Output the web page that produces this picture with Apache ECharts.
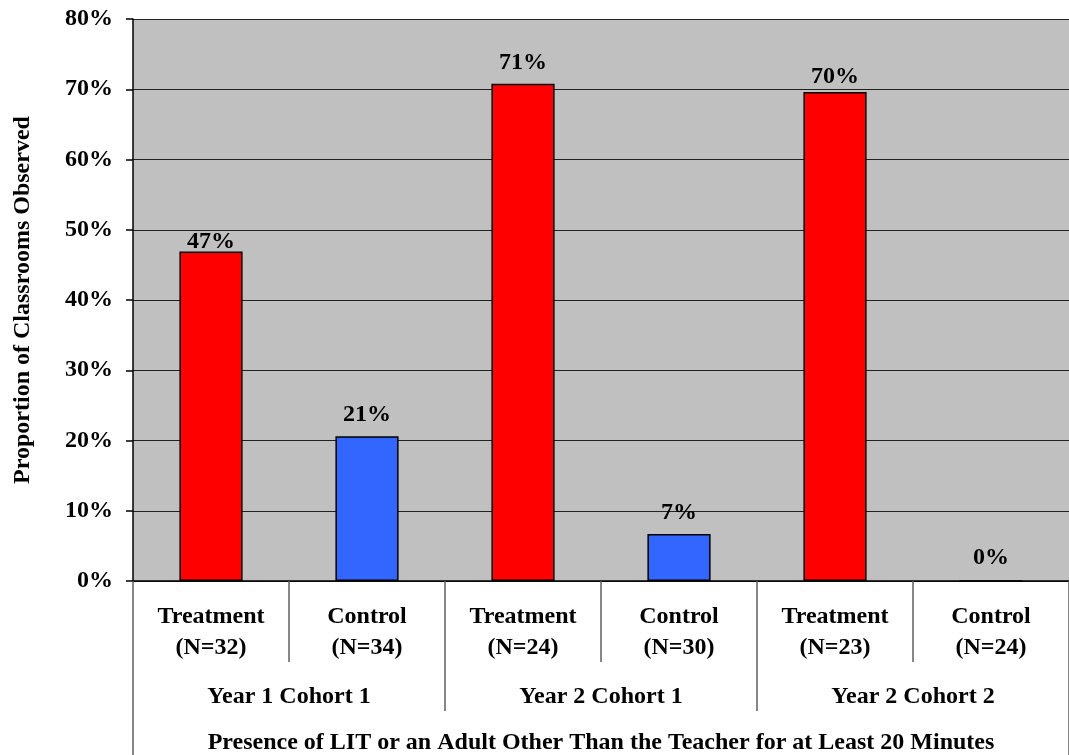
<!DOCTYPE html>
<html>
<head>
<meta charset="utf-8">
<script src="https://cdn.jsdelivr.net/npm/echarts@6/dist/echarts.min.js"></script>
<style>
html,body{margin:0;padding:0;background:#fff;}
#chart{width:1069px;height:755px;}
</style>
</head>
<body>
<div id="chart"></div>
<script>
// ---- data ----
const groups = ['Treatment', 'Control', 'Treatment', 'Control', 'Treatment', 'Control'];
const sampleSizes = [32, 34, 24, 30, 23, 24];
const cohorts = ['Year 1 Cohort 1', 'Year 2 Cohort 1', 'Year 2 Cohort 2'];
const values = [46.9, 20.6, 70.8, 6.7, 69.6, 0];
const yAxisTitle = 'Proportion of Classrooms Observed';
const xAxisTitle = 'Presence of LIT or an Adult Other Than the Teacher for at Least 20 Minutes';
const yMin = 0, yMax = 80, yStep = 10;

// ---- styling ----
const FONT = '"Liberation Serif", "Times New Roman", serif';
const FS = 24;
const RED = '#FF0000', BLUE = '#3366FF';
const labelGaps = [-2, 9, 9, 9, 3, 10];

const catLabels = groups.map((g, i) => g + '\n(N=' + sampleSizes[i] + ')');

const textStyle = { fontFamily: FONT, fontWeight: 'bold', fontSize: FS, color: '#000' };

const chart = echarts.init(document.getElementById('chart'), null, { renderer: 'canvas' });
chart.setOption({
  animation: false,
  backgroundColor: '#fff',
  grid: {
    left: 133, right: 0, top: 19, bottom: 174,
    outerBoundsMode: 'none', containLabel: false,
    show: true, backgroundColor: '#C0C0C0', borderWidth: 0
  },
  xAxis: [
    {
      type: 'category', data: catLabels, position: 'bottom', gridIndex: 0,
      axisLine: { show: true, lineStyle: { color: '#000', width: 1.5 } },
      axisTick: { show: true, interval: 0, length: 81, lineStyle: { color: '#606060', width: 1.5 } },
      axisLabel: Object.assign({ interval: 0, margin: 20, lineHeight: 31 }, textStyle),
      splitLine: { show: false }
    },
    {
      type: 'category', data: cohorts, position: 'bottom', gridIndex: 0,
      axisLine: { show: false },
      axisTick: { show: true, interval: 0, length: 130, lineStyle: { color: '#606060', width: 1.5 } },
      axisLabel: Object.assign({ interval: 0, margin: 104, lineHeight: 24 }, textStyle),
      splitLine: { show: false }
    },
    {
      type: 'category', data: [xAxisTitle], position: 'bottom', gridIndex: 0,
      axisLine: { show: false },
      axisTick: { show: true, interval: 0, length: 174, lineStyle: { color: '#606060', width: 1.5 } },
      axisLabel: Object.assign({ interval: 0, margin: 150, lineHeight: 24 }, textStyle),
      splitLine: { show: false }
    }
  ],
  yAxis: {
    type: 'value', min: yMin, max: yMax, interval: yStep,
    name: yAxisTitle, nameLocation: 'middle', nameGap: 98,
    nameTextStyle: textStyle,
    axisLine: { show: true, lineStyle: { color: '#000', width: 1.5 } },
    axisTick: { show: true, length: 7, lineStyle: { color: '#000', width: 1.5 } },
    axisLabel: Object.assign({ formatter: '{value}%', margin: 20 }, textStyle),
    splitLine: { show: true, lineStyle: { color: '#222', width: 1.2 } }
  },
  series: [{
    type: 'bar',
    xAxisIndex: 0,
    barWidth: '40.5%',
    data: values.map((v, i) => ({
      value: v,
      itemStyle: { color: groups[i] === 'Treatment' ? RED : BLUE, borderColor: '#000', borderWidth: 1.5 },
      label: { distance: labelGaps[i] }
    })),
    label: Object.assign({
      show: true, position: 'top', lineHeight: 24,
      formatter: p => Math.round(p.value) + '%'
    }, textStyle)
  }]
});
</script>
</body>
</html>
